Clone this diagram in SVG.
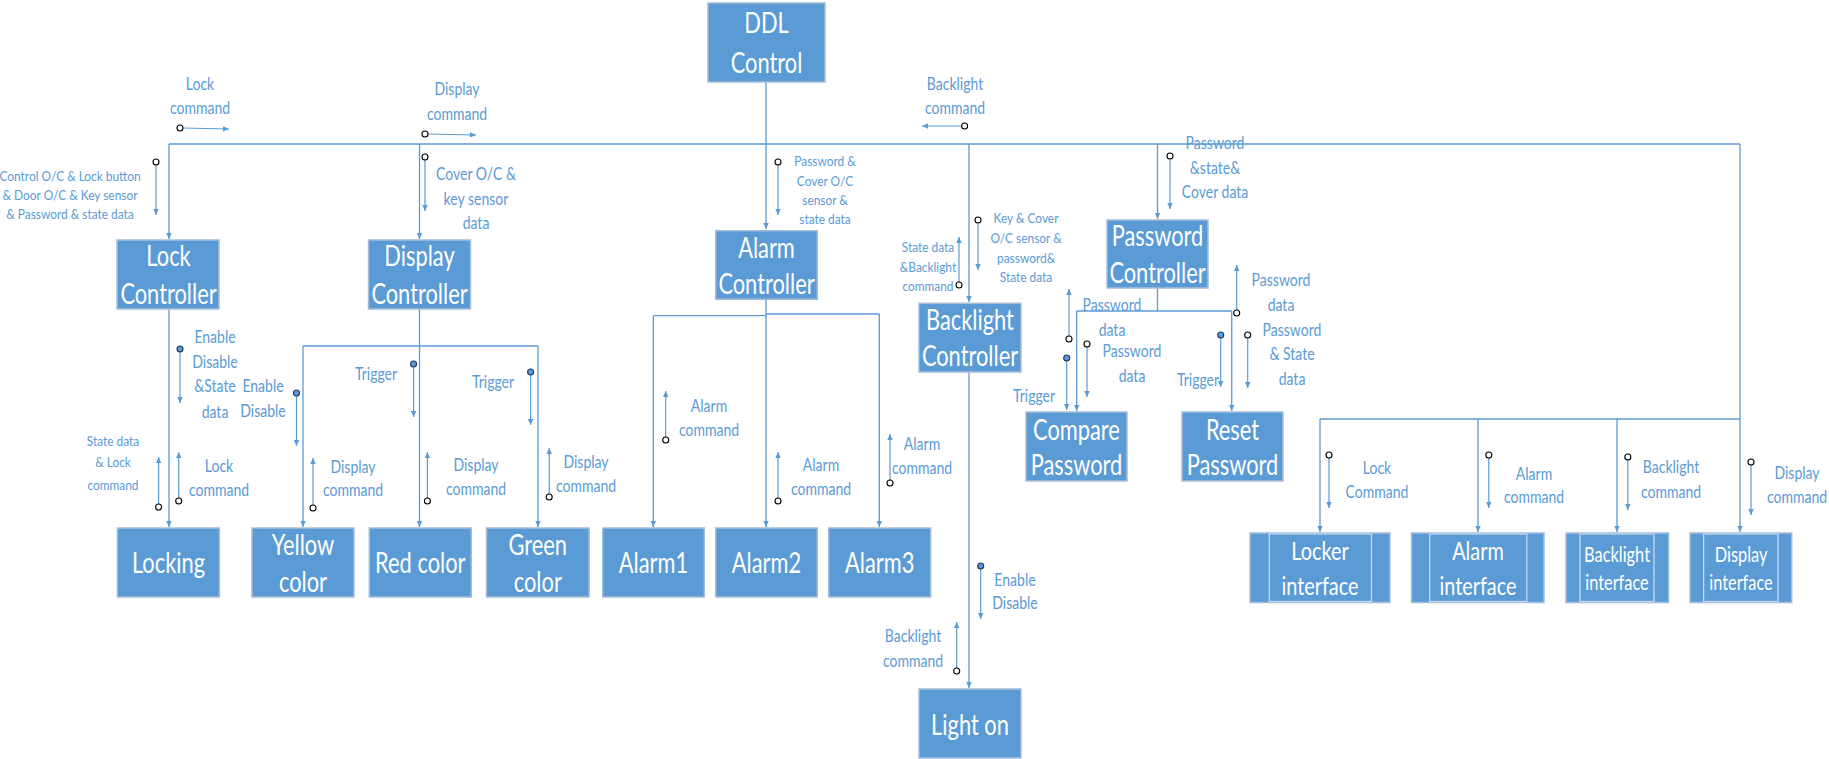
<svg xmlns="http://www.w3.org/2000/svg" width="1829" height="759" viewBox="0 0 1829 759">
<style>
.n rect{fill:#5B9BD5;stroke:#A7BCD8;stroke-width:1.5}
.n .in{fill:none;stroke:#C5D7EE;stroke-width:1.3}
.bt{font-family:Lato,"Liberation Sans",sans-serif;font-size:28px;fill:#fff;text-anchor:middle;transform-box:fill-box;transform-origin:center;transform:scaleX(0.78)}
.b24{font-size:25.5px}
.b20{font-size:21px}
.lb{font-family:Lato,"Liberation Sans",sans-serif;font-size:16.5px;fill:#5B9BD5;text-anchor:middle;transform-box:fill-box;transform-origin:center;transform:scaleX(0.85)}
.sm{font-size:14px}
.cn path{stroke:#5B9BD5;stroke-width:1.3;fill:none}
.sg path{stroke:#5B9BD5;stroke-width:1.2;fill:none}
.o{fill:#fff;stroke:#000;stroke-width:1.1}
.f{fill:#5B9BD5;stroke:#1F3864;stroke-width:1.1}
</style>
<defs>
<marker id="ah" viewBox="0 0 10 10" refX="10" refY="5" markerWidth="7" markerHeight="6" markerUnits="userSpaceOnUse" orient="auto"><path d="M0,0.5 L10,5 L0,9.5 z" fill="#5B9BD5"/></marker>
</defs>

<g id="connectors" class="cn">
<path d="M766,82 V229" marker-end="url(#ah)"/>
<path d="M169,144 H1740"/>
<path d="M169,144 V239" marker-end="url(#ah)"/>
<path d="M419.5,144 V239" marker-end="url(#ah)"/>
<path d="M969,144 V302" marker-end="url(#ah)"/>
<path d="M1157.5,144 V219" marker-end="url(#ah)"/>
<path d="M1740,144 V532" marker-end="url(#ah)"/>
<path d="M1320,419 H1740"/>
<path d="M1320,419 V532" marker-end="url(#ah)"/>
<path d="M1478,419 V532" marker-end="url(#ah)"/>
<path d="M1617,419 V532" marker-end="url(#ah)"/>
<path d="M169,309 V527" marker-end="url(#ah)"/>
<path d="M419.5,309 V527" marker-end="url(#ah)"/>
<path d="M303,346 H538"/>
<path d="M303,346 V527" marker-end="url(#ah)"/>
<path d="M538,346 V527" marker-end="url(#ah)"/>
<path d="M766,299 V527" marker-end="url(#ah)"/>
<path d="M653.3,315.7 H766"/>
<path d="M766,314 H879.3"/>
<path d="M653.3,315.7 V527" marker-end="url(#ah)"/>
<path d="M879.3,314 V527" marker-end="url(#ah)"/>
<path d="M969,372 V688" marker-end="url(#ah)"/>
<path d="M1157.5,288 V311"/>
<path d="M1076.7,311 H1231.7"/>
<path d="M1076.7,311 V411" marker-end="url(#ah)"/>
<path d="M1231.7,311 V411" marker-end="url(#ah)"/>
</g>

<g id="signals" class="sg">
<path d="M183,128 L229,129" marker-end="url(#ah)"/>
<path d="M428,134 L476,135" marker-end="url(#ah)"/>
<path d="M961.6,126 L922,126" marker-end="url(#ah)"/>
<path d="M156,165 V215" marker-end="url(#ah)"/>
<path d="M425,160 V211" marker-end="url(#ah)"/>
<path d="M778,165 V215" marker-end="url(#ah)"/>
<path d="M1170,159 V209" marker-end="url(#ah)"/>
<path d="M978,223 V270" marker-end="url(#ah)"/>
<path d="M959,282 V237" marker-end="url(#ah)"/>
<path d="M180,352 V403" marker-end="url(#ah)"/>
<path d="M178.7,498 V452" marker-end="url(#ah)"/>
<path d="M158.6,504 V457" marker-end="url(#ah)"/>
<path d="M296.5,396 V446" marker-end="url(#ah)"/>
<path d="M313,505 V458" marker-end="url(#ah)"/>
<path d="M413.6,367 V417" marker-end="url(#ah)"/>
<path d="M427.4,498 V452" marker-end="url(#ah)"/>
<path d="M530.6,375 V425" marker-end="url(#ah)"/>
<path d="M549.2,494 V448" marker-end="url(#ah)"/>
<path d="M665.7,437 V391" marker-end="url(#ah)"/>
<path d="M778,498 V452" marker-end="url(#ah)"/>
<path d="M890,480 V434" marker-end="url(#ah)"/>
<path d="M980.7,569 V619" marker-end="url(#ah)"/>
<path d="M956.7,668 V622" marker-end="url(#ah)"/>
<path d="M1069,336 V289" marker-end="url(#ah)"/>
<path d="M1066.7,361 V410" marker-end="url(#ah)"/>
<path d="M1087,347 V397" marker-end="url(#ah)"/>
<path d="M1236.7,310 V265" marker-end="url(#ah)"/>
<path d="M1220.7,338 V387" marker-end="url(#ah)"/>
<path d="M1247.7,338 V388" marker-end="url(#ah)"/>
<path d="M1329,458 V508" marker-end="url(#ah)"/>
<path d="M1488.8,458 V508" marker-end="url(#ah)"/>
<path d="M1627.8,460 V510" marker-end="url(#ah)"/>
<path d="M1751,465 V515" marker-end="url(#ah)"/>
<circle class="o" cx="180" cy="128" r="3"/>
<circle class="o" cx="425" cy="134" r="3"/>
<circle class="o" cx="964.6" cy="126" r="3"/>
<circle class="o" cx="156" cy="162" r="3"/>
<circle class="o" cx="425" cy="157" r="3"/>
<circle class="o" cx="778" cy="162" r="3"/>
<circle class="o" cx="1170" cy="156" r="3"/>
<circle class="o" cx="978" cy="220" r="3"/>
<circle class="o" cx="959" cy="285" r="3"/>
<circle class="f" cx="180" cy="349" r="3"/>
<circle class="o" cx="178.7" cy="501" r="3"/>
<circle class="o" cx="158.6" cy="507" r="3"/>
<circle class="f" cx="296.5" cy="393" r="3"/>
<circle class="o" cx="313" cy="508" r="3"/>
<circle class="f" cx="413.6" cy="364" r="3"/>
<circle class="o" cx="427.4" cy="501" r="3"/>
<circle class="f" cx="530.6" cy="372" r="3"/>
<circle class="o" cx="549.2" cy="497" r="3"/>
<circle class="o" cx="665.7" cy="440" r="3"/>
<circle class="o" cx="778" cy="501" r="3"/>
<circle class="o" cx="890" cy="483" r="3"/>
<circle class="f" cx="980.7" cy="566" r="3"/>
<circle class="o" cx="956.7" cy="671" r="3"/>
<circle class="o" cx="1069" cy="339" r="3"/>
<circle class="f" cx="1066.7" cy="358" r="3"/>
<circle class="o" cx="1087" cy="344" r="3"/>
<circle class="o" cx="1236.7" cy="313" r="3"/>
<circle class="f" cx="1220.7" cy="335" r="3"/>
<circle class="o" cx="1247.7" cy="335" r="3"/>
<circle class="o" cx="1329" cy="455" r="3"/>
<circle class="o" cx="1488.8" cy="455" r="3"/>
<circle class="o" cx="1627.8" cy="457" r="3"/>
<circle class="o" cx="1751" cy="462" r="3"/>
</g>

<g id="labels">
<text class="lb" x="200" y="90">Lock</text>
<text class="lb" x="200" y="114">command</text>
<text class="lb" x="457" y="95">Display</text>
<text class="lb" x="457" y="120">command</text>
<text class="lb" x="955" y="90">Backlight</text>
<text class="lb" x="955" y="114">command</text>
<text class="lb sm" x="70" y="181">Control O/C &amp; Lock button</text>
<text class="lb sm" x="70" y="200">&amp; Door O/C &amp; Key sensor</text>
<text class="lb sm" x="70" y="219">&amp; Password &amp; state data</text>
<text class="lb" x="476" y="180">Cover O/C &amp;</text>
<text class="lb" x="476" y="205">key sensor</text>
<text class="lb" x="476" y="229">data</text>
<text class="lb sm" x="825" y="166">Password &amp;</text>
<text class="lb sm" x="825" y="186">Cover O/C</text>
<text class="lb sm" x="825" y="205">sensor &amp;</text>
<text class="lb sm" x="825" y="224">state data</text>
<text class="lb sm" x="1026" y="223">Key &amp; Cover</text>
<text class="lb sm" x="1026" y="243">O/C sensor &amp;</text>
<text class="lb sm" x="1026" y="263">password&amp;</text>
<text class="lb sm" x="1026" y="282">State data</text>
<text class="lb sm" x="928" y="252">State data</text>
<text class="lb sm" x="928" y="272">&amp;Backlight</text>
<text class="lb sm" x="928" y="291">command</text>
<text class="lb" x="1215" y="149">Password</text>
<text class="lb" x="1215" y="174">&amp;state&amp;</text>
<text class="lb" x="1215" y="198">Cover data</text>
<text class="lb" x="215" y="343">Enable</text>
<text class="lb" x="215" y="368">Disable</text>
<text class="lb" x="215" y="392">&amp;State</text>
<text class="lb" x="215" y="418">data</text>
<text class="lb" x="219" y="472">Lock</text>
<text class="lb" x="219" y="496">command</text>
<text class="lb sm" x="113" y="446">State data</text>
<text class="lb sm" x="113" y="467">&amp; Lock</text>
<text class="lb sm" x="113" y="490">command</text>
<text class="lb" x="263" y="392">Enable</text>
<text class="lb" x="263" y="417">Disable</text>
<text class="lb" x="353" y="473">Display</text>
<text class="lb" x="353" y="496">command</text>
<text class="lb" x="376" y="380">Trigger</text>
<text class="lb" x="476" y="471">Display</text>
<text class="lb" x="476" y="495">command</text>
<text class="lb" x="493" y="388">Trigger</text>
<text class="lb" x="586" y="468">Display</text>
<text class="lb" x="586" y="492">command</text>
<text class="lb" x="709" y="412">Alarm</text>
<text class="lb" x="709" y="436">command</text>
<text class="lb" x="821" y="471">Alarm</text>
<text class="lb" x="821" y="495">command</text>
<text class="lb" x="922" y="450">Alarm</text>
<text class="lb" x="922" y="474">command</text>
<text class="lb" x="1015" y="586">Enable</text>
<text class="lb" x="1015" y="609">Disable</text>
<text class="lb" x="913" y="642">Backlight</text>
<text class="lb" x="913" y="667">command</text>
<text class="lb" x="1112" y="311">Password</text>
<text class="lb" x="1112" y="336">data</text>
<text class="lb" x="1034" y="402">Trigger</text>
<text class="lb" x="1132" y="357">Password</text>
<text class="lb" x="1132" y="382">data</text>
<text class="lb" x="1281" y="286">Password</text>
<text class="lb" x="1281" y="311">data</text>
<text class="lb" x="1198" y="386">Trigger</text>
<text class="lb" x="1292" y="336">Password</text>
<text class="lb" x="1292" y="360">&amp; State</text>
<text class="lb" x="1292" y="385">data</text>
<text class="lb" x="1377" y="474">Lock</text>
<text class="lb" x="1377" y="498">Command</text>
<text class="lb" x="1534" y="480">Alarm</text>
<text class="lb" x="1534" y="503">command</text>
<text class="lb" x="1671" y="473">Backlight</text>
<text class="lb" x="1671" y="498">command</text>
<text class="lb" x="1797" y="479">Display</text>
<text class="lb" x="1797" y="503">command</text>
</g>

<g id="ddl-control" class="n"><rect x="708" y="3" width="117" height="79"/><text class="bt" x="766.5" y="33">DDL</text><text class="bt" x="766.5" y="73">Control</text></g>
<g id="lock-controller" class="n"><rect x="117" y="240" width="102" height="69"/><text class="bt" x="168.5" y="266.5">Lock</text><text class="bt" x="168.5" y="303.8">Controller</text></g>
<g id="display-controller" class="n"><rect x="368.5" y="240" width="102" height="69"/><text class="bt" x="419.5" y="266.5">Display</text><text class="bt" x="419.5" y="303.8">Controller</text></g>
<g id="alarm-controller" class="n"><rect x="715.7" y="230.7" width="101.6" height="68.6"/><text class="bt" x="766.5" y="258">Alarm</text><text class="bt" x="766.5" y="293.8">Controller</text></g>
<g id="backlight-controller" class="n"><rect x="919" y="303.3" width="102" height="68.7"/><text class="bt" x="970" y="329.8">Backlight</text><text class="bt" x="970" y="365.8">Controller</text></g>
<g id="password-controller" class="n"><rect x="1107" y="220" width="101" height="68"/><text class="bt" x="1157.5" y="246.5">Password</text><text class="bt" x="1157.5" y="282.8">Controller</text></g>
<g id="compare-password" class="n"><rect x="1026" y="412" width="101" height="69"/><text class="bt" x="1076.5" y="439.8">Compare</text><text class="bt" x="1076.5" y="474.8">Password</text></g>
<g id="reset-password" class="n"><rect x="1182" y="412" width="101" height="69"/><text class="bt" x="1232.5" y="439.8">Reset</text><text class="bt" x="1232.5" y="474.8">Password</text></g>
<g id="locking" class="n"><rect x="117.4" y="528" width="102" height="69"/><text class="bt" x="168.5" y="572.8">Locking</text></g>
<g id="yellow-color" class="n"><rect x="252" y="528" width="102" height="69"/><text class="bt" x="303" y="554.8">Yellow</text><text class="bt" x="303" y="592.5">color</text></g>
<g id="red-color" class="n"><rect x="369.3" y="528" width="102" height="69"/><text class="bt" x="420.3" y="572.8">Red color</text></g>
<g id="green-color" class="n"><rect x="486.5" y="528" width="102.6" height="69"/><text class="bt" x="537.8" y="554.8">Green</text><text class="bt" x="537.8" y="592.5">color</text></g>
<g id="alarm1" class="n"><rect x="602.7" y="528" width="101.6" height="69"/><text class="bt" x="653.5" y="573">Alarm1</text></g>
<g id="alarm2" class="n"><rect x="715.7" y="528" width="101.6" height="69"/><text class="bt" x="766.5" y="573">Alarm2</text></g>
<g id="alarm3" class="n"><rect x="828.7" y="528" width="102" height="69"/><text class="bt" x="879.7" y="573">Alarm3</text></g>
<g id="light-on" class="n"><rect x="919" y="689" width="102" height="69"/><text class="bt" x="970" y="734.8">Light on</text></g>
<g id="locker-interface" class="n"><rect x="1250" y="533" width="140" height="69.5"/><rect class="in" x="1269.3" y="534" width="102.2" height="67.5"/><text class="bt b24" x="1320" y="560.5">Locker</text><text class="bt b24" x="1320" y="595.5">interface</text></g>
<g id="alarm-interface" class="n"><rect x="1411.5" y="533" width="132.5" height="69.5"/><rect class="in" x="1429.7" y="534" width="97.1" height="67.5"/><text class="bt b24" x="1478" y="560.5">Alarm</text><text class="bt b24" x="1478" y="595.5">interface</text></g>
<g id="backlight-interface" class="n"><rect x="1566" y="533" width="102.6" height="69.5"/><rect class="in" x="1580" y="534" width="74" height="67.5"/><text class="bt b20" x="1617" y="562.5">Backlight</text><text class="bt b20" x="1617" y="590.5">interface</text></g>
<g id="display-interface" class="n"><rect x="1690" y="533" width="101.7" height="69.5"/><rect class="in" x="1703.6" y="534" width="74.4" height="67.5"/><text class="bt b20" x="1741" y="562.5">Display</text><text class="bt b20" x="1741" y="590.5">interface</text></g>
</svg>
